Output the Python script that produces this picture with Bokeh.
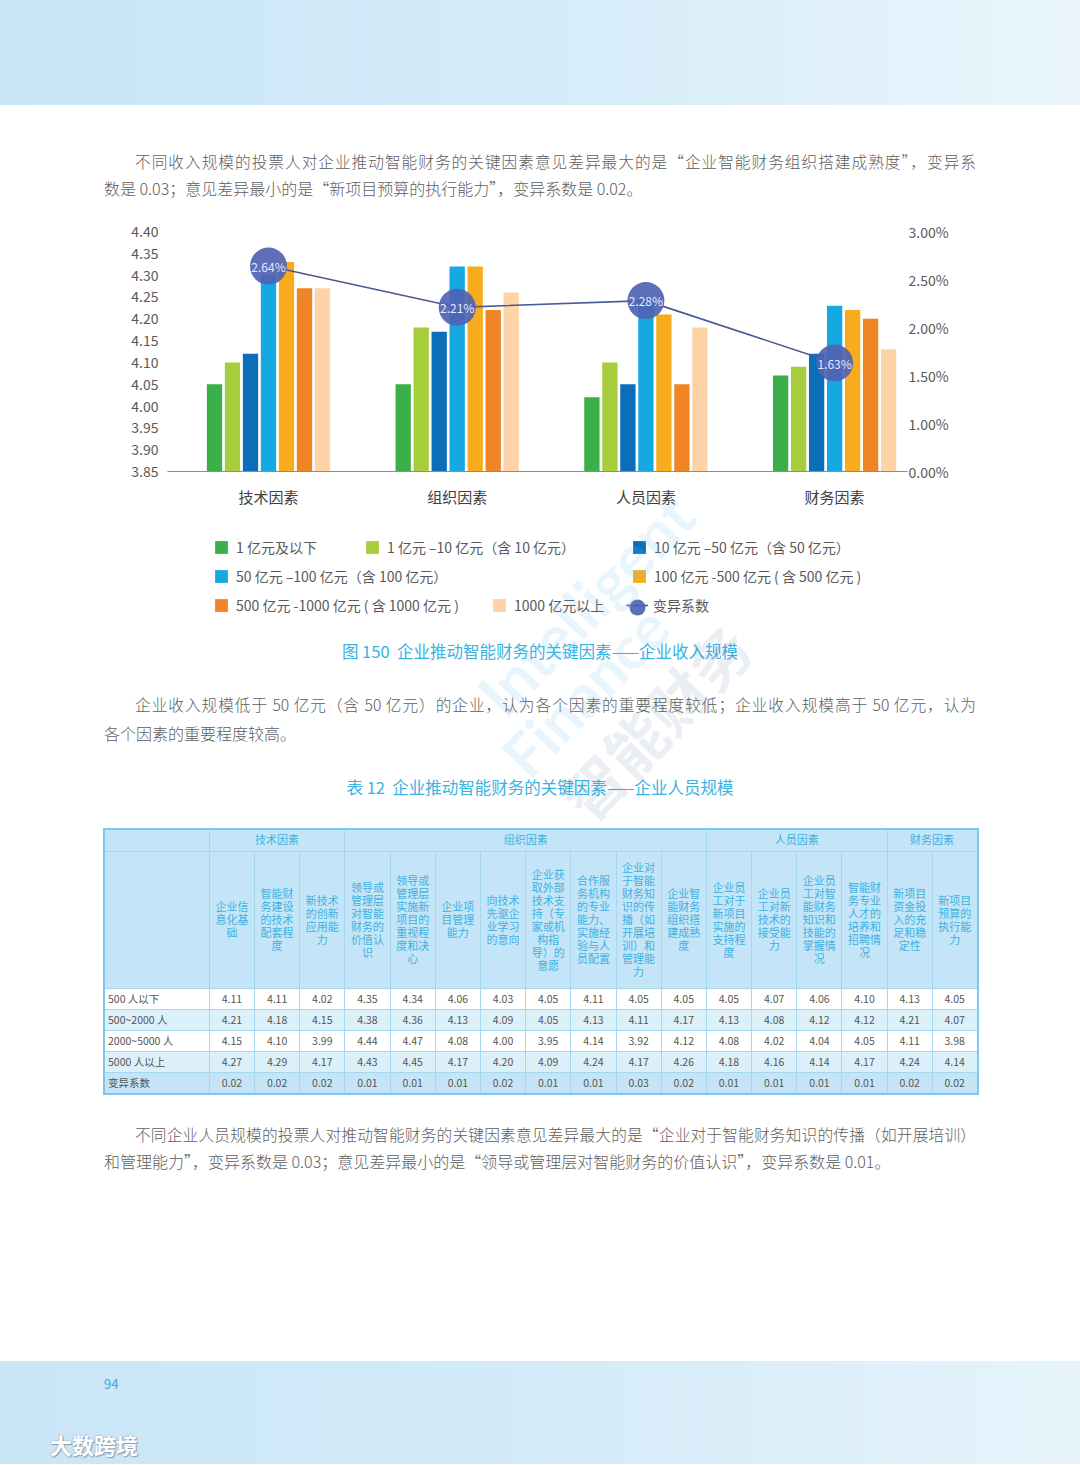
from bokeh.plotting import figure
from bokeh.models import (Range1d, LinearAxis, FixedTicker, NumeralTickFormatter,
                          Legend, LegendItem, ColumnDataSource, Div)
from bokeh.layouts import column
from bokeh.transform import dodge
from bokeh.core.properties import value
from bokeh.embed import file_html
from bokeh.resources import INLINE

FONT = "Noto Sans CJK SC"

# ---------------- chart data ----------------
categories = ["技术因素", "组织因素", "人员因素", "财务因素"]
series_names = ["1 亿元及以下", "1 亿元 –10 亿元（含 10 亿元）", "10 亿元 –50 亿元（含 50 亿元）",
                "50 亿元 –100 亿元（含 100 亿元）", "100 亿元 -500 亿元 ( 含 500 亿元 )",
                "500 亿元 -1000 亿元 ( 含 1000 亿元 )", "1000 亿元以上"]
rev_1 = [4.05, 4.05, 4.02, 4.07]
rev_2 = [4.10, 4.18, 4.10, 4.09]
rev_3 = [4.12, 4.17, 4.05, 4.12]
rev_4 = [4.30, 4.32, 4.25, 4.23]
rev_5 = [4.33, 4.32, 4.21, 4.22]
rev_6 = [4.27, 4.22, 4.05, 4.20]
rev_7 = [4.27, 4.26, 4.18, 4.13]
cv = [0.0264, 0.0221, 0.0228, 0.0163]
cv_labels = ["2.64%", "2.21%", "2.28%", "1.63%"]
cv_name = "变异系数"
left_ticks = [3.85, 3.90, 3.95, 4.00, 4.05, 4.10, 4.15, 4.20, 4.25, 4.30, 4.35, 4.40]
right_ticks = [0.005, 0.010, 0.015, 0.020, 0.025, 0.030]
right_bottom_label = "0.00%"

# ---------------- table data ----------------
tbl_groups = ["技术因素", "组织因素", "人员因素", "财务因素"]
tbl_group_spans = [3, 8, 4, 2]
tbl_columns = ["企业信息化基础", "智能财务建设的技术配套程度", "新技术的创新应用能力",
               "领导或管理层对智能财务的价值认识", "领导或管理层实施新项目的重视程度和决心",
               "企业项目管理能力", "向技术先驱企业学习的意向",
               "企业获取外部技术支持（专家或机构指导）的意愿",
               "合作服务机构的专业能力、实施经验与人员配置",
               "企业对于智能财务知识的传播（如开展培训）和管理能力",
               "企业智能财务组织搭建成熟度", "企业员工对于新项目实施的支持程度",
               "企业员工对新技术的接受能力", "企业员工对智能财务知识和技能的掌握情况",
               "智能财务专业人才的培养和招聘情况", "新项目资金投入的充足和稳定性",
               "新项目预算的执行能力"]
tbl_rows = ["500 人以下", "500~2000 人", "2000~5000 人", "5000 人以上", "变异系数"]
row_500 = [4.11, 4.11, 4.02, 4.35, 4.34, 4.06, 4.03, 4.05, 4.11, 4.05, 4.05, 4.05, 4.07, 4.06, 4.10, 4.13, 4.05]
row_2000 = [4.21, 4.18, 4.15, 4.38, 4.36, 4.13, 4.09, 4.05, 4.13, 4.11, 4.17, 4.13, 4.08, 4.12, 4.12, 4.21, 4.07]
row_5000 = [4.15, 4.10, 3.99, 4.44, 4.47, 4.08, 4.00, 3.95, 4.14, 3.92, 4.12, 4.08, 4.02, 4.04, 4.05, 4.11, 3.98]
row_5000p = [4.27, 4.29, 4.17, 4.43, 4.45, 4.17, 4.20, 4.09, 4.24, 4.17, 4.26, 4.18, 4.16, 4.14, 4.17, 4.24, 4.14]
row_cv = [0.02, 0.02, 0.02, 0.01, 0.01, 0.01, 0.02, 0.01, 0.01, 0.03, 0.02, 0.01, 0.01, 0.01, 0.01, 0.02, 0.02]

# ---------------- texts ----------------
para1 = ["不同收入规模的投票人对企业推动智能财务的关键因素意见差异最大的是“企业智能财务组织搭建成熟度”，变异系",
         "数是 0.03；意见差异最小的是“新项目预算的执行能力”，变异系数是 0.02。"]
caption = "图 150&nbsp;&nbsp;企业推动智能财务的关键因素——企业收入规模"
para2 = ["企业收入规模低于 50 亿元（含 50 亿元）的企业，认为各个因素的重要程度较低；企业收入规模高于 50 亿元，认为",
         "各个因素的重要程度较高。"]
table_title = "表 12&nbsp;&nbsp;企业推动智能财务的关键因素——企业人员规模"
para3 = ["不同企业人员规模的投票人对推动智能财务的关键因素意见差异最大的是“企业对于智能财务知识的传播（如开展培训）",
         "和管理能力”，变异系数是 0.03；意见差异最小的是“领导或管理层对智能财务的价值认识”，变异系数是 0.01。"]
watermark = ["Intelligent", "Finance", "智能财务"]
page_no = "94"
brand = "大数跨境"

colors = ["#3bb04a", "#a6cd3b", "#0a6eb9", "#15a9e1", "#f8ab1c", "#f08526", "#fdd3a7"]

# ---------------- chart ----------------
W = 1064
FIGX = 0                      # observed page x of the figures' left edge
DIVX = 5                      # observed page x of the divs' content origin
FRAME_L, FRAME_R = 167, 907   # page x of the plot frame
GROUP_PX = 188.7
first_center = 268
x0 = (FRAME_L - first_center) / GROUP_PX
x1 = (FRAME_R - first_center) / GROUP_PX

src = ColumnDataSource(dict(x=[0, 1, 2, 3], s1=rev_1, s2=rev_2, s3=rev_3, s4=rev_4,
                            s5=rev_5, s6=rev_6, s7=rev_7, cv=cv, cvl=cv_labels))

p = figure(width=W, height=310, x_range=Range1d(x0, x1), y_range=Range1d(3.85, 4.40),
           output_backend="svg", toolbar_location=None,
           min_border_left=FRAME_L - FIGX, min_border_right=W + FIGX - FRAME_R,
           min_border_top=14, min_border_bottom=56)
p.outline_line_color = None
p.xgrid.visible = False
p.ygrid.visible = False
p.background_fill_color = "white"
p.border_fill_color = "white"

pitch = 18.0 / GROUP_PX
bw = 15.3 / GROUP_PX
for i, key in enumerate(["s1", "s2", "s3", "s4", "s5", "s6", "s7"]):
    p.vbar(x=dodge("x", (i - 3) * pitch), top=key, bottom=3.85, width=bw,
           source=src, fill_color=colors[i], line_color=None)

p.extra_y_ranges = {"pct": Range1d(0.005, 0.030)}
LINE_C, DOT_C = "#4a5895", "#4f63b3"
p.line(x="x", y="cv", source=src, y_range_name="pct", line_color=LINE_C, line_width=1.6)
p.scatter(x="x", y="cv", source=src, y_range_name="pct", size=37,
          fill_color=DOT_C, fill_alpha=0.92, line_color=None)
p.text(x="x", y="cv", text="cvl", source=src, y_range_name="pct", text_align="center",
       text_baseline="middle", text_color="#e4e9ff", text_font=value(FONT),
       text_font_size=value("12px"))

xa = p.xaxis[0]
xa.ticker = FixedTicker(ticks=[0, 1, 2, 3])
xa.major_label_overrides = {i: c for i, c in enumerate(categories)}
xa.axis_line_color = "#8c8c8c"
xa.major_tick_line_color = None
xa.minor_tick_line_color = None
xa.major_tick_out = 0
xa.major_tick_in = 0
xa.major_label_standoff = 14
xa.major_label_text_font = FONT
xa.major_label_text_font_size = "15px"
xa.major_label_text_color = "#404040"

ya = p.yaxis[0]
ya.ticker = FixedTicker(ticks=left_ticks)
ya.formatter = NumeralTickFormatter(format="0.00")
ya.axis_line_color = None
ya.major_tick_line_color = None
ya.minor_tick_line_color = None
ya.major_tick_out = 0
ya.major_tick_in = 0
ya.major_label_standoff = 9
ya.major_label_text_font = FONT
ya.major_label_text_font_size = "14px"
ya.major_label_text_color = "#595959"

ra = LinearAxis(y_range_name="pct", ticker=FixedTicker(ticks=right_ticks),
                formatter=NumeralTickFormatter(format="0.00%"))
ra.major_label_overrides = {right_ticks[0]: right_bottom_label}
ra.axis_line_color = None
ra.major_tick_line_color = None
ra.minor_tick_line_color = None
ra.major_tick_out = 0
ra.major_tick_in = 0
ra.major_label_standoff = 1
ra.major_label_text_font = FONT
ra.major_label_text_font_size = "14px"
ra.major_label_text_color = "#595959"
p.add_layout(ra, "right")

# ---------------- legend strip (own small figure, frame aligned with the chart) ----------------
LH = 100
lg = figure(width=W, height=LH, x_range=Range1d(0, 1), y_range=Range1d(0, 1),
            output_backend="svg", toolbar_location=None, x_axis_type=None, y_axis_type=None,
            min_border_left=FRAME_L - FIGX, min_border_right=W + FIGX - FRAME_R,
            min_border_top=0, min_border_bottom=0)
lg.outline_line_color = None
lg.background_fill_color = "white"
lg.border_fill_color = "white"
# proxy renderers, degenerate and outside the visible range: only their legend glyphs show
proxies = [lg.vbar(x=[-50], top=[-50], bottom=[-50], width=0.0, fill_color=c, line_color=None)
           for c in colors]
proxy_line = lg.line(x=[-60, -50], y=[-50, -50], line_color=LINE_C, line_width=1.6)
proxy_dot = lg.scatter(x=[-50], y=[-50], size=37, fill_color=DOT_C, fill_alpha=0.92,
                       line_color=None)

row_y = [22, 51, 80]            # row centres inside the legend strip
legend_pos = [(213, 0), (364, 0), (631, 0), (213, 1), (631, 1), (213, 2), (491, 2)]


def add_legend(renderers, label, gx, cy, gw=16, gh=16, standoff=7):
    leg = Legend(items=[LegendItem(label=label, renderers=renderers)],
                 location=(gx - FRAME_L, LH - (cy + gh / 2)),
                 glyph_width=gw, glyph_height=gh, label_height=gh, label_standoff=standoff,
                 padding=0, margin=0, spacing=0, border_line_color=None,
                 background_fill_alpha=0, label_text_font=FONT,
                 label_text_font_size="14px", label_text_color="#595959",
                 label_text_baseline="middle")
    lg.add_layout(leg)


for i, (gx, ri) in enumerate(legend_pos):
    add_legend([proxies[i]], series_names[i], gx, row_y[ri])
add_legend([proxy_line], cv_name, 626, row_y[2], gw=22, gh=16, standoff=5)
add_legend([proxy_dot], " ", 617, row_y[2], gw=40, gh=40, standoff=0)

# ---------------- HTML parts ----------------
TXT = ("font-family:'Noto Sans CJK SC',sans-serif;color:#5e5e5e;font-weight:300;")


def paragraph(lines, left, top, lh):
    out = f'<div style="position:absolute;left:{left}px;top:{top}px;width:872px;{TXT}line-height:{lh}px;">'
    out += (f'<div style="font-size:15.7px;text-align:justify;text-align-last:justify;'
            f'text-indent:31px;">{lines[0]}</div>')
    out += f'<div style="font-size:16px;white-space:nowrap;">{lines[1]}</div></div>'
    return out


top_html = ('<div style="position:relative;width:1064px;height:207px;overflow:visible;">'
            f'<div style="position:absolute;left:{-DIVX}px;top:-5px;width:1080px;height:105px;'
            'background:linear-gradient(90deg,#c8e5f6 0%,#d4ecf9 50%,#eaf5fc 100%);"></div>'
            + paragraph(para1, 104 - DIVX, 142.5, 27) + '</div>')
top_div = Div(text=top_html, width=W, height=207)

BOT = 633  # observed page y of the bottom div's content origin
col_w = [105.3] + [45.2] * 17
hdr_color = "#3fb1e1"
cell = ("border:1px solid #a4d7f0;padding:0 4px;text-align:center;vertical-align:middle;"
        "overflow:hidden;")
t = ('<table style="position:absolute;left:%dpx;top:%dpx;border-collapse:collapse;'
     'table-layout:fixed;width:%.1fpx;border:2px solid #79c8ee;'
     "font-family:'Noto Sans CJK SC',sans-serif;\">" % (103 - DIVX, 829 - BOT, sum(col_w)))
t += "<colgroup>" + "".join(f'<col style="width:{w}px">' for w in col_w) + "</colgroup>"
t += f'<tr style="height:22px;background:#c3e5f7;"><td style="{cell}"></td>'
for g, s in zip(tbl_groups, tbl_group_spans):
    t += f'<td colspan="{s}" style="{cell}color:{hdr_color};font-size:11px;">{g}</td>'
t += "</tr>"
t += f'<tr style="height:137px;background:#c3e5f7;"><td style="{cell}"></td>'
for c in tbl_columns:
    t += f'<td style="{cell}color:{hdr_color};font-size:11px;line-height:13px;">{c}</td>'
t += "</tr>"
row_bgs = ["#ffffff", "#dcf0fa", "#ffffff", "#dcf0fa", "#c5e5f6"]
row_hs = [21, 21, 21, 21, 22]
for lab, vals, bg, h in zip(tbl_rows, [row_500, row_2000, row_5000, row_5000p, row_cv], row_bgs, row_hs):
    t += f'<tr style="height:{h}px;background:{bg};">'
    t += (f'<td style="{cell}text-align:left;padding-left:3px;color:#555;font-size:10.5px;">'
          f'{lab}</td>')
    for v in vals:
        t += f'<td style="{cell}color:#555;font-size:10.5px;">{v:.2f}</td>'
    t += "</tr>"
t += "</table>"


def wm(text, cx, cy, size, color, fam, weight="bold"):
    return (f'<div style="position:absolute;left:{cx - DIVX - 300}px;top:{cy - BOT - 50}px;'
            f'width:600px;height:100px;line-height:100px;text-align:center;font-size:{size}px;'
            f'font-weight:{weight};color:{color};font-family:{fam};transform:rotate(-46deg);'
            f'pointer-events:none;white-space:nowrap;">{text}</div>')


wm_html = (wm(watermark[0], 585, 605, 62, "rgba(110,195,240,0.16)", "Lato,'Open Sans',sans-serif")
           + wm(watermark[1], 585, 692, 60, "rgba(110,195,240,0.16)", "Lato,'Open Sans',sans-serif")
           + wm(watermark[2], 655, 722, 60, "rgba(70,110,150,0.11)", "'Noto Sans CJK SC',sans-serif"))

CAP = ("position:absolute;left:%dpx;width:1064px;text-align:center;font-size:16.5px;line-height:20px;"
       "color:#38b3e2;font-family:'Noto Sans CJK SC',sans-serif;" % (8 - DIVX))
bottom_html = ('<div style="position:relative;width:1064px;height:832px;overflow:visible;">'
               f'<div style="{CAP}top:{642 - BOT}px;">{caption}</div>'
               + paragraph(para2, 104 - DIVX, 692 - BOT, 28)
               + f'<div style="{CAP}top:{778 - BOT}px;">{table_title}</div>'
               + t
               + paragraph(para3, 104 - DIVX, 1121.5 - BOT, 27)
               + f'<div style="position:absolute;left:{-DIVX}px;top:{1362 - BOT}px;width:1080px;height:103px;'
                 'background:linear-gradient(90deg,#c9e6f7 0%,#d3ebf8 50%,#e6f3fb 100%);"></div>'
               + f'<div style="position:absolute;left:{104 - DIVX}px;top:{1377 - BOT}px;font-size:13px;'
                 f"line-height:16px;color:#4aa4d8;font-family:'Noto Sans CJK SC',sans-serif;\">{page_no}</div>"
               + f'<div style="position:absolute;left:{50 - DIVX}px;top:{1432 - BOT}px;font-size:22px;'
                 f"line-height:26px;font-weight:bold;color:#ffffff;"
                 f"text-shadow:0 0 2px #8a9aa8,1px 1px 1px #8a9aa8;"
                 f"font-family:'Noto Sans CJK SC',sans-serif;\">{brand}</div>"
               + wm_html
               + '</div>')
bottom_div = Div(text=bottom_html, width=W, height=832)

layout = column(top_div, p, lg, bottom_div, spacing=0)
open("out.html", "w").write(file_html(layout, INLINE))
